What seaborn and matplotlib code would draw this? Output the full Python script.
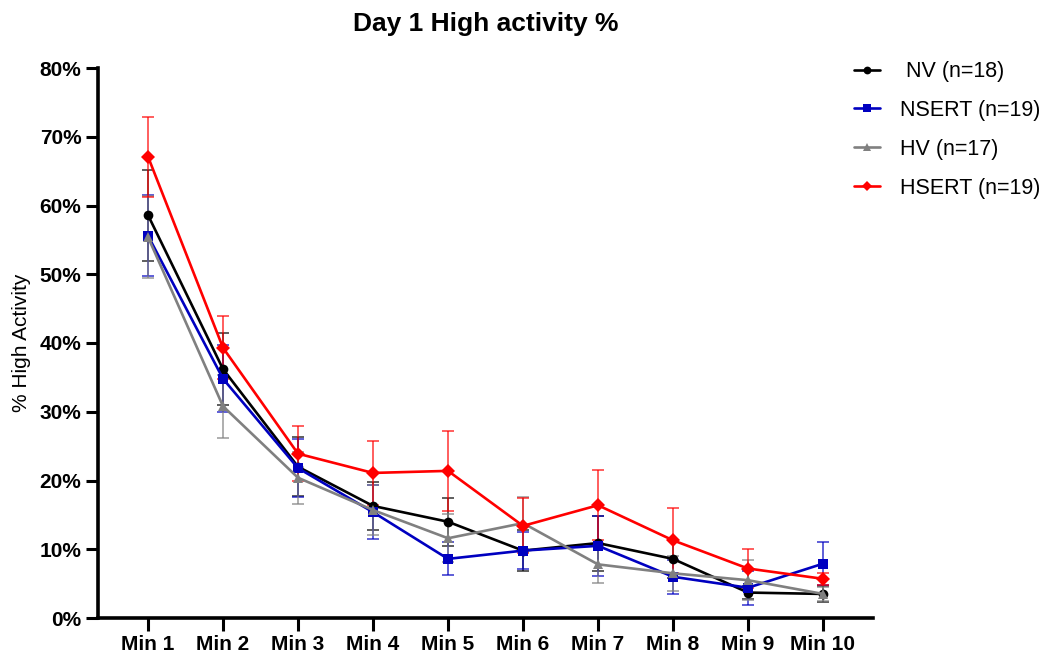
import numpy as np
import pandas as pd
import seaborn as sns
import matplotlib.pyplot as plt
from matplotlib.ticker import PercentFormatter

minutes = list(range(1, 11))
tick_labels = [f"Min {m}" for m in minutes]
groups = ["NV (n=18)", "NSERT (n=19)", "HV (n=17)", "HSERT (n=19)"]

# mean % high activity per minute
nv_mean = [58.6, 36.2, 22.0, 16.3, 14.0, 9.8, 10.9, 8.6, 3.7, 3.5]
nsert_mean = [55.6, 34.8, 21.8, 15.4, 8.6, 9.8, 10.5, 6.0, 4.4, 7.9]
hv_mean = [55.4, 30.8, 20.4, 15.7, 11.6, 13.8, 7.8, 6.5, 5.5, 3.5]
hsert_mean = [67.1, 39.3, 23.9, 21.1, 21.4, 13.4, 16.4, 11.3, 7.2, 5.7]

# SEM
nv_sem = [6.6, 5.2, 4.3, 3.5, 3.5, 3.0, 4.0, 2.8, 0.9, 1.2]
nsert_sem = [5.9, 4.9, 4.2, 3.9, 2.4, 2.7, 4.4, 2.5, 2.5, 3.1]
hv_sem = [6.0, 4.6, 3.8, 3.6, 3.5, 3.8, 2.7, 2.5, 2.9, 1.0]
hsert_sem = [5.8, 4.6, 4.0, 4.7, 5.8, 4.0, 5.1, 4.7, 2.8, 0.9]

means = [nv_mean, nsert_mean, hv_mean, hsert_mean]
sems = [nv_sem, nsert_sem, hv_sem, hsert_sem]
colors = ["#000000", "#0000c0", "#808080", "#ff0000"]
markers = ["o", "s", "^", "D"]

df = pd.DataFrame({
    "minute": minutes * len(groups),
    "value": sum(means, []),
    "group": [g for g in groups for _ in minutes],
})

sns.set_style("white", {"axes.edgecolor": "black", "text.color": "black",
                        "axes.labelcolor": "black", "xtick.color": "black",
                        "ytick.color": "black"})
plt.rcParams["font.family"] = ["Liberation Sans", "DejaVu Sans"]

fig = plt.figure(figsize=(10.61, 6.57), dpi=100)
ax = fig.add_axes([98 / 1061, 1 - 618 / 657, 775 / 1061, 550 / 657])

for g, m, s, c in zip(groups, means, sems, colors):
    ax.errorbar(minutes, m, yerr=s, fmt="none", ecolor=c, elinewidth=1.1,
                capsize=4.5, capthick=1.1, alpha=0.8, zorder=2)

sns.lineplot(data=df, x="minute", y="value", hue="group", style="group",
             palette=dict(zip(groups, colors)), markers=dict(zip(groups, markers)),
             dashes=False, linewidth=1.9, markersize=7, markeredgewidth=0,
             ax=ax, zorder=3)

ax.set_xlim(0.333, 10.667)
ax.set_ylim(0, 80)
ax.set_xticks(minutes)
ax.set_xticklabels(tick_labels, fontsize=15, fontweight="bold")
ax.set_yticks(range(0, 81, 10))
ax.yaxis.set_major_formatter(PercentFormatter(decimals=0))
for lab in ax.get_yticklabels():
    lab.set_fontsize(15)
    lab.set_fontweight("bold")
ax.tick_params(axis="both", direction="out", length=9, width=2.2, pad=3,
               bottom=True, left=True, colors="black")
sns.despine(ax=ax)
for sp in ["left", "bottom"]:
    ax.spines[sp].set_linewidth(2.6)
    ax.spines[sp].set_color("black")
ax.set_xlabel("")
ax.set_ylabel("% High Activity", fontsize=15, labelpad=6, color="black")
ax.set_title("Day 1 High activity %", fontsize=19, fontweight="bold", pad=27,
             color="black")

handles, labels = ax.get_legend_handles_labels()
labels = [" " + l if l.startswith("NV") else l for l in labels]
leg = ax.legend(handles, labels, loc="upper left", bbox_to_anchor=(0.956, 1.04),
                frameon=False, fontsize=15.5, handlelength=1.2, handletextpad=0.95,
                labelspacing=0.83, markerscale=0.8, borderaxespad=0.3)
for t in leg.get_texts():
    t.set_color("black")

fig.savefig("out.png", dpi=100)
